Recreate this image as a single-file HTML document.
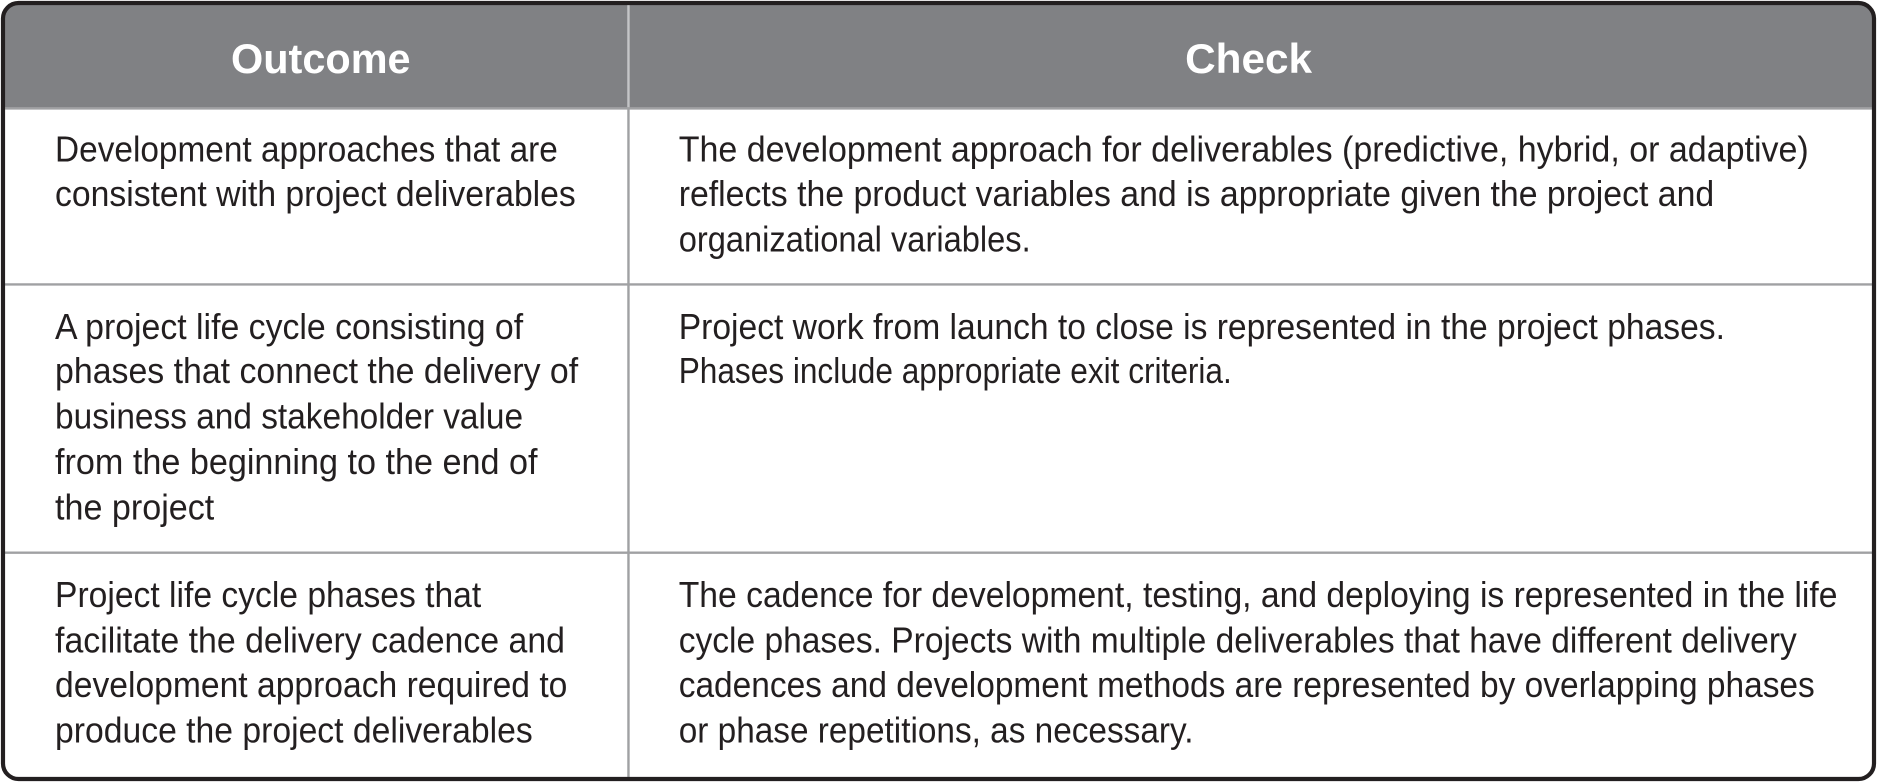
<!DOCTYPE html>
<html><head><style>
html,body{margin:0;padding:0;background:#fff;}
svg{display:block;}
text{font-family:"Liberation Sans Narrow","Liberation Sans",sans-serif;fill:#231f20;}
.b{font-size:30px;}
.h{font-size:35px;font-weight:bold;fill:#fff;}
</style></head><body>
<svg width="1877" height="782" viewBox="0 0 1568 653" preserveAspectRatio="none" xmlns="http://www.w3.org/2000/svg">
<rect x="2.5" y="2.5" width="1563" height="648" rx="13" ry="13" fill="#fff"/>
<path d="M2.5 90 V15.5 A13 13 0 0 1 15.5 2.5 H1552.5 A13 13 0 0 1 1565.5 15.5 V90 Z" fill="#808184"/>
<line x1="525" y1="3" x2="525" y2="90" stroke="#c4c5c7" stroke-width="2"/>
<line x1="2" y1="90.5" x2="1566" y2="90.5" stroke="#a0a1a3" stroke-width="2"/>
<line x1="525" y1="90" x2="525" y2="650" stroke="#a0a1a3" stroke-width="2"/>
<line x1="2" y1="237.5" x2="1566" y2="237.5" stroke="#a0a1a3" stroke-width="2"/>
<line x1="2" y1="461.5" x2="1566" y2="461.5" stroke="#a0a1a3" stroke-width="2"/>
<rect x="2.5" y="2.5" width="1563" height="648" rx="13" ry="13" fill="none" stroke="#231f20" stroke-width="3.5"/>

<text class="h" x="268" y="61" text-anchor="middle" textLength="150" lengthAdjust="spacingAndGlyphs">Outcome</text>
<text class="h" x="1043" y="61" text-anchor="middle" textLength="106" lengthAdjust="spacingAndGlyphs">Check</text>

<g class="b">
<text class="b" x="46" y="135" textLength="420" lengthAdjust="spacingAndGlyphs">Development approaches that are</text>
<text class="b" x="46" y="172" textLength="435" lengthAdjust="spacingAndGlyphs">consistent with project deliverables</text>

<text class="b" x="46" y="283" textLength="391" lengthAdjust="spacingAndGlyphs">A project life cycle consisting of</text>
<text class="b" x="46" y="320" textLength="437" lengthAdjust="spacingAndGlyphs">phases that connect the delivery of</text>
<text class="b" x="46" y="358" textLength="391" lengthAdjust="spacingAndGlyphs">business and stakeholder value</text>
<text class="b" x="46" y="396" textLength="403" lengthAdjust="spacingAndGlyphs">from the beginning to the end of</text>
<text class="b" x="46" y="434" textLength="133" lengthAdjust="spacingAndGlyphs">the project</text>

<text class="b" x="46" y="507" textLength="356" lengthAdjust="spacingAndGlyphs">Project life cycle phases that</text>
<text class="b" x="46" y="545" textLength="426" lengthAdjust="spacingAndGlyphs">facilitate the delivery cadence and</text>
<text class="b" x="46" y="582" textLength="428" lengthAdjust="spacingAndGlyphs">development approach required to</text>
<text class="b" x="46" y="620" textLength="399" lengthAdjust="spacingAndGlyphs">produce the project deliverables</text>

<text class="b" x="567" y="135" textLength="944" lengthAdjust="spacingAndGlyphs">The development approach for deliverables (predictive, hybrid, or adaptive)</text>
<text class="b" x="567" y="172" textLength="865" lengthAdjust="spacingAndGlyphs">reflects the product variables and is appropriate given the project and</text>
<text class="b" x="567" y="210" textLength="294" lengthAdjust="spacingAndGlyphs">organizational variables.</text>

<text class="b" x="567" y="283" textLength="874" lengthAdjust="spacingAndGlyphs">Project work from launch to close is represented in the project phases.</text>
<text class="b" x="567" y="320" textLength="462" lengthAdjust="spacingAndGlyphs">Phases include appropriate exit criteria.</text>

<text class="b" x="567" y="507" textLength="968" lengthAdjust="spacingAndGlyphs">The cadence for development, testing, and deploying is represented in the life</text>
<text class="b" x="567" y="545" textLength="934" lengthAdjust="spacingAndGlyphs">cycle phases. Projects with multiple deliverables that have different delivery</text>
<text class="b" x="567" y="582" textLength="949" lengthAdjust="spacingAndGlyphs">cadences and development methods are represented by overlapping phases</text>
<text class="b" x="567" y="620" textLength="430" lengthAdjust="spacingAndGlyphs">or phase repetitions, as necessary.</text>
</g>
</svg>
</body></html>
